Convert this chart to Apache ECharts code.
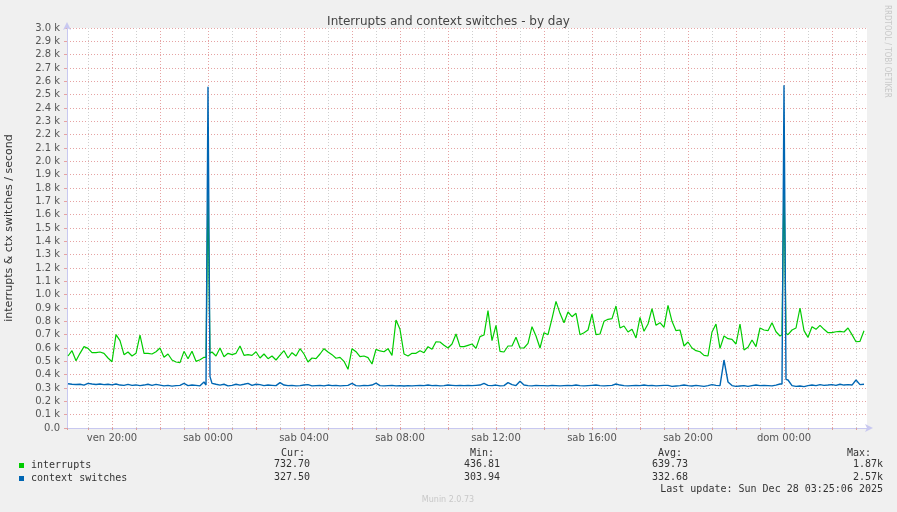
<!DOCTYPE html>
<html>
<head>
<meta charset="utf-8">
<script src="https://cdn.jsdelivr.net/npm/echarts@6/dist/echarts.min.js"></script>
<style>
html,body{margin:0;padding:0;background:#f0f0f0;}
#c{width:897px;height:512px;}
</style>
</head>
<body>
<div id="c"></div>
<script>
// ---- data (hours relative to Fri 20:00; one sample every 10 minutes) ----
const firstSampleHour = -11 / 6;
const sampleStepHours = 1 / 6;

const interrupts = [
  540,580,505,560,610,597,565,565,570,560, 525,497,700,655,550,570,540,560,697,560,
  560,555,572,600,530,555,510,495,490,575, 520,575,500,512,530,1780,570,540,600,535,
  560,550,560,615,545,550,545,572,525,555, 520,
  540,510,547,580,525,565,540,595,555, 495,525,520,555,595,570,550,523,530,500,
  440,595,572,535,540,528,480,590,578,572, 595,545,810,740,555,540,560,560,580,565,
  610,590,647,645,620,600,630,705,610,610, 620,
  630,597,685,697,880,655,770,575,570, 615,615,680,600,600,635,760,690,600,715,
  700,820,950,860,790,870,835,860,700,715, 735,855,700,705,800,815,820,915,750,765,
  720,740,675,830,725,780,895,770,790,755, 920,
  800,730,735,615,645,600,580,572,545, 540,720,780,597,690,670,665,630,780,585,
  605,660,610,750,735,730,790,722,690,1870, 700,735,750,900,730,680,760,740,770,740,
  715,715,722,725,720,750,700,647,650,730
];

const contextSwitches = [
  332,328,326,328,322,335,330,326,330,325, 328,323,330,322,320,327,320,323,318,322,
  328,320,327,322,316,320,314,318,320,334, 318,322,320,316,345,2560,335,328,322,328,
  316,320,328,322,328,335,320,328,325,318, 322,
  320,318,340,322,318,320,316,318,322, 325,316,318,320,316,322,318,320,316,318,
  320,335,318,316,320,318,322,336,318,316, 318,320,316,318,315,318,316,318,320,318,
  322,318,320,316,318,322,320,318,320,318, 320,
  318,320,322,335,320,318,322,316,318, 340,325,318,350,322,318,316,320,318,318,
  316,320,318,316,318,320,318,322,318,316, 318,320,322,318,316,318,320,330,322,318,
  316,318,320,318,322,318,320,316,318,320, 320,
  312,315,318,322,318,315,320,316,312, 318,325,320,318,510,345,318,312,315,318,
  312,318,322,318,320,318,316,322,330,2570, 360,318,312,315,310,318,322,318,325,320,
  322,325,320,328,322,325,322,360,325,328
];

// 5-minute samples on either side of the two spikes
const spikeSideHours = [3.9167, 4.0833, 27.9167, 28.0833];
const spikeSideInterrupts = [530, 560, 700, 710];
const spikeSideContext = [322, 385, 330, 365];

const xTickHours = [0, 4, 8, 12, 16, 20, 24, 28];
const xTickLabels = ['ven 20:00','sab 00:00','sab 04:00','sab 08:00','sab 12:00','sab 16:00','sab 20:00','dom 00:00'];

const seriesNames = ['interrupts', 'context switches'];
const seriesColors = ['#00cc00', '#0066b3'];
const statHeaders = ['Cur:', 'Min:', 'Avg:', 'Max:'];
const curValues = ['732.70', '327.50'];
const minValues = ['436.81', '303.94'];
const avgValues = ['639.73', '332.68'];
const maxValues = ['1.87k', '2.57k'];
const lastUpdate = 'Last update: Sun Dec 28 03:25:06 2025';

// ---- build series ----
function buildSeries(values, sideValues) {
  const pts = values.map((v, i) => [firstSampleHour + i * sampleStepHours, v]);
  spikeSideHours.forEach((h, k) => pts.push([h, sideValues[k]]));
  pts.sort((a, b) => a[0] - b[0]);
  return pts;
}
const intrData = buildSeries(interrupts, spikeSideInterrupts);
const ctxData = buildSeries(contextSwitches, spikeSideContext);

const chart = echarts.init(document.getElementById('c'), null, {renderer: 'canvas'});
const mono = 'DejaVu Sans Mono';
const sans = 'DejaVu Sans';
const txt = '#333';
const redGrid = '#e6a3a3';
const grayGrid = '#cfcfcf';
const axisBlue = '#c8c8f0';

function t(text, x, y, opts) {
  return {
    type: 'text', x: x, y: y,
    style: Object.assign({text: text, fill: txt, font: '10px "' + mono + '"', textAlign: 'left', textVerticalAlign: 'middle'}, opts || {})
  };
}

const graphics = [];
graphics.push(t(statHeaders[0], 281, 453));
graphics.push(t(statHeaders[1], 470, 453));
graphics.push(t(statHeaders[2], 658, 453));
graphics.push(t(statHeaders[3], 847, 453));
[464, 477].forEach((y, r) => {
  graphics.push(t(curValues[r], 310, y, {textAlign: 'right'}));
  graphics.push(t(minValues[r], 500, y, {textAlign: 'right'}));
  graphics.push(t(avgValues[r], 688, y, {textAlign: 'right'}));
  graphics.push(t(maxValues[r], 883, y, {textAlign: 'right'}));
});
graphics.push(t(lastUpdate, 883, 489, {textAlign: 'right'}));
graphics.push(t('Munin 2.0.73', 448, 500, {textAlign: 'center', fill: '#c8c8c8', font: '8px "' + sans + '"'}));
graphics.push({
  type: 'text', x: 887, y: 5, rotation: -Math.PI / 2,
  style: {text: 'RRDTOOL / TOBI OETIKER', fill: '#c8c8c8', font: '8px "DejaVu Sans Condensed", "' + sans + '"', textAlign: 'left', textVerticalAlign: 'middle'}
});

chart.setOption({
  animation: false,
  backgroundColor: '#f0f0f0',
  title: {
    text: 'Interrupts and context switches - by day',
    left: 'center', top: 11,
    textStyle: {fontFamily: sans, fontSize: 12, fontWeight: 'normal', color: '#444'}
  },
  legend: {
    data: seriesNames,
    orient: 'vertical', left: 14, top: 455,
    icon: 'rect', itemWidth: 5, itemHeight: 5, itemGap: 2,
    textStyle: {fontFamily: mono, fontSize: 10, color: txt, lineHeight: 11, padding: [0, 0, 0, 2]},
    selectedMode: false
  },
  graphic: graphics,
  grid: {left: 67, right: 30, top: 28, bottom: 84, backgroundColor: '#ffffff', show: true, borderWidth: 0,
    containLabel: false, outerBoundsMode: 'none'},
  xAxis: {
    type: 'value',
    min: (67 - 112) / 24,
    max: (867 - 112) / 24,
    splitNumber: 33,
    axisLine: {show: true, onZero: false, lineStyle: {color: axisBlue, width: 1}, symbol: ['none', 'arrow'], symbolSize: [6, 8], symbolOffset: [0, 6]},
    axisTick: {show: true, length: 2, lineStyle: {color: '#d8a0a0'}},
    splitLine: {show: true, showMaxLine: false, lineStyle: {color: [redGrid, grayGrid], type: [1, 2], width: 1}},
    axisLabel: {
      show: true, margin: 5, color: '#555', fontFamily: sans, fontSize: 10,
      showMinLabel: true, showMaxLabel: true,
      formatter: function (v) {
        const k = xTickHours.findIndex(h => Math.abs(h - v) < 1e-6);
        return k >= 0 ? xTickLabels[k] : '';
      }
    }
  },
  yAxis: {
    type: 'value', min: 0, max: 3000, interval: 100,
    name: 'interrupts & ctx switches / second',
    nameLocation: 'middle', nameGap: 52, nameRotate: 90,
    nameTextStyle: {fontFamily: sans, fontSize: 11, color: txt},
    axisLine: {show: true, onZero: false, lineStyle: {color: axisBlue, width: 1}, symbol: ['none', 'arrow'], symbolSize: [6, 8], symbolOffset: [0, 6]},
    axisTick: {show: true, length: 3, lineStyle: {color: redGrid}},
    splitLine: {show: true, lineStyle: {color: redGrid, type: [1, 2], width: 1}},
    axisLabel: {
      margin: 7, color: '#555', fontFamily: sans, fontSize: 10,
      formatter: function (v) { return v === 0 ? '0.0' : (v / 1000).toFixed(1) + ' k'; }
    }
  },
  series: [
    {name: seriesNames[0], type: 'line', data: intrData, showSymbol: false, symbol: 'none',
      lineStyle: {color: seriesColors[0], width: 1.2}, itemStyle: {color: seriesColors[0]}, z: 2},
    {name: seriesNames[1], type: 'line', data: ctxData, showSymbol: false, symbol: 'none',
      lineStyle: {color: seriesColors[1], width: 1.4}, itemStyle: {color: seriesColors[1]}, z: 3}
  ]
});
</script>
</body>
</html>
